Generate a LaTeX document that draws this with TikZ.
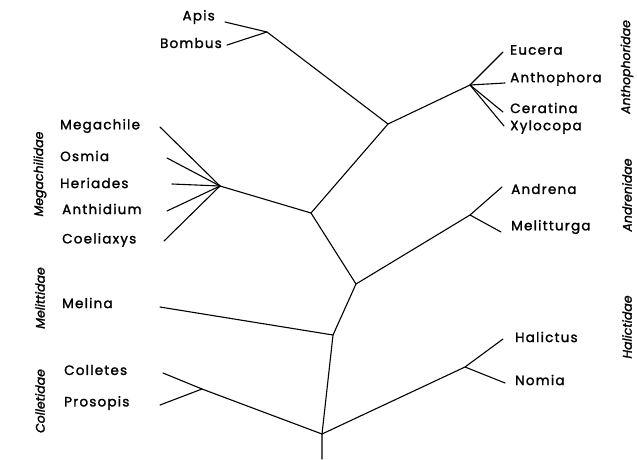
\documentclass[tikz,border=0pt]{standalone}
\usepackage{fontspec}
\setmainfont{Poppins}[BoldFont=Poppins,BoldFeatures={FakeBold=1.6},
  BoldItalicFont=Poppins Italic,BoldItalicFeatures={FakeBold=1.6}]
\newfontfamily\taxfont{Poppins}[LetterSpace=9,BoldFont=Poppins,BoldFeatures={FakeBold=1.6,LetterSpace=9}]
\usepackage{tikz}

\begin{document}
\begin{tikzpicture}[
  x=1pt,y=-1pt,
  br/.style={line width=1.1pt,line cap=round,line join=round},
  taxon/.style={font=\taxfont\bfseries\fontsize{13.5}{14}\selectfont,inner sep=0pt},
  family/.style={font=\bfseries\itshape\fontsize{12.5}{13}\selectfont,rotate=90,inner sep=0pt}
]
\useasboundingbox (0,0) rectangle (637,459);

\coordinate (apb)  at (267,32);
\coordinate (top)  at (388,124);
\coordinate (ant)  at (470,85);
\coordinate (meg)  at (220,186);
\coordinate (mid)  at (311,213);
\coordinate (andj) at (356,284);
\coordinate (andr) at (470,215);
\coordinate (mel)  at (333,335);
\coordinate (root) at (322,434);
\coordinate (hal)  at (465,367);
\coordinate (col)  at (202,389);
\coordinate (stem) at (322,459);

\node[taxon,anchor=east] (apis)   at (215,17)  {Apis};
\node[taxon,anchor=east] (bombus) at (222,43)  {Bombus};
\node[taxon,anchor=west] (eucera) at (510,50)  {Eucera};
\node[taxon,anchor=west] (anthophora) at (510,79) {Anthophora};
\node[taxon,anchor=west] (ceratina)   at (510,108) {Ceratina};
\node[taxon,anchor=west] (xylocopa)   at (510,127) {Xylocopa};
\node[taxon,anchor=west] (andrena)    at (511,189) {Andrena};
\node[taxon,anchor=west] (melitturga) at (511,227) {Melitturga};
\node[taxon,anchor=west] (halictus)   at (515,337) {Halictus};
\node[taxon,anchor=west] (nomia)      at (515,380) {Nomia};
\node[taxon,anchor=west] (megachile)  at (60,126)  {Megachile};
\node[taxon,anchor=west] (osmia)      at (60,156)  {Osmia};
\node[taxon,anchor=west] (heriades)   at (60,183)  {Heriades};
\node[taxon,anchor=west] (anthidium)  at (62,209)  {Anthidium};
\node[taxon,anchor=west] (coeliaxys)  at (62,240)  {Coeliaxys};
\node[taxon,anchor=west] (melina)     at (62,303)  {Melina};
\node[taxon,anchor=west] (colletes)   at (64,370)  {Colletes};
\node[taxon,anchor=west] (prosopis)   at (64,403)  {Prosopis};

\node[family] (megachilidae) at (40,174)  {Megachilidae};
\node[family] (melittidae)   at (40,298)  {Melittidae};
\node[family] (colletidae)   at (40,401)  {Colletidae};
\node[family] (anthophoridae) at (627,67) {Anthophoridae};
\node[family] (andrenidae)   at (627,195) {Andrenidae};
\node[family] (halictidae)   at (627,327) {Halictidae};

\coordinate (apis-e)   at (225,22);
\coordinate (bombus-e) at (227,45);
\coordinate (eucera-e) at (503,52);
\coordinate (anthophora-e) at (505,83);
\coordinate (ceratina-e)   at (503,112);
\coordinate (xylocopa-e)   at (504,126);
\coordinate (andrena-e)    at (502,187);
\coordinate (melitturga-e) at (501,232);
\coordinate (halictus-e)   at (503,339);
\coordinate (nomia-e)      at (505,383);
\coordinate (megachile-e)  at (160,127);
\coordinate (osmia-e)      at (167,158);
\coordinate (heriades-e)   at (172,184);
\coordinate (anthidium-e)  at (167,211);
\coordinate (coeliaxys-e)  at (164,241);
\coordinate (melina-e)     at (160,307);
\coordinate (colletes-e)   at (163,373);
\coordinate (prosopis-e)   at (160,405);

\draw[br] (apis-e) -- (apb) -- (top) -- (ant) -- (eucera-e);
\draw[br] (bombus-e) -- (apb);
\draw[br] (anthophora-e) -- (ant) -- (ceratina-e);
\draw[br] (ant) -- (xylocopa-e);
\draw[br] (top) -- (mid) -- (andj) -- (andr) -- (andrena-e);
\draw[br] (andr) -- (melitturga-e);
\draw[br] (mid) -- (meg);
\foreach \t in {megachile,osmia,heriades,anthidium,coeliaxys}
  \draw[br] (meg) -- (\t-e);
\draw[br] (andj) -- (mel) -- (root) -- (stem);
\draw[br] (melina-e) -- (mel);
\draw[br] (root) -- (hal) -- (halictus-e);
\draw[br] (hal) -- (nomia-e);
\draw[br] (root) -- (col) -- (colletes-e);
\draw[br] (col) -- (prosopis-e);
\end{tikzpicture}
\end{document}
